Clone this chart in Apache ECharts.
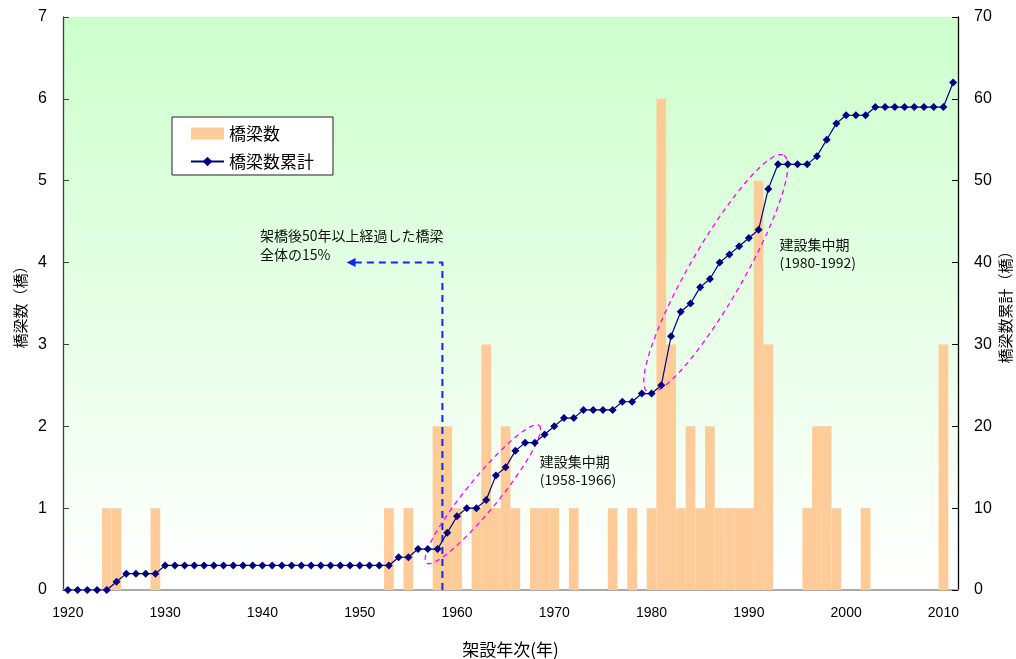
<!DOCTYPE html>
<html>
<head>
<meta charset="utf-8">
<script src="https://cdn.jsdelivr.net/npm/echarts@6/dist/echarts.min.js"></script>
<style>
  html, body { margin: 0; padding: 0; background: #ffffff; }
  #chart { width: 1016px; height: 659px; }
</style>
</head>
<body>
<div id="chart"></div>
<script>
// Construction years (category axis)
const years = [
  '1920','1921','1922','1923','1924','1925','1926','1927','1928','1929',
  '1930','1931','1932','1933','1934','1935','1936','1937','1938','1939',
  '1940','1941','1942','1943','1944','1945','1946','1947','1948','1949',
  '1950','1951','1952','1953','1954','1955','1956','1957','1958','1959',
  '1960','1961','1962','1963','1964','1965','1966','1967','1968','1969',
  '1970','1971','1972','1973','1974','1975','1976','1977','1978','1979',
  '1980','1981','1982','1983','1984','1985','1986','1987','1988','1989',
  '1990','1991','1992','1993','1994','1995','1996','1997','1998','1999',
  '2000','2001','2002','2003','2004','2005','2006','2007','2008','2009',
  '2010','2011'
];

// Bridges built per year (left axis)
const bridgeCounts = [
  0, 0, 0, 0, 1, 1, 0, 0, 0, 1,
  0, 0, 0, 0, 0, 0, 0, 0, 0, 0,
  0, 0, 0, 0, 0, 0, 0, 0, 0, 0,
  0, 0, 0, 1, 0, 1, 0, 0, 2, 2,
  1, 0, 1, 3, 1, 2, 1, 0, 1, 1,
  1, 0, 1, 0, 0, 0, 1, 0, 1, 0,
  1, 6, 3, 1, 2, 1, 2, 1, 1, 1,
  1, 5, 3, 0, 0, 0, 1, 2, 2, 1,
  0, 0, 1, 0, 0, 0, 0, 0, 0, 0,
  3, 0
];

// Cumulative bridge count (right axis)
const cumulativeCounts = [
  0, 0, 0, 0, 0, 1, 2, 2, 2, 2,
  3, 3, 3, 3, 3, 3, 3, 3, 3, 3,
  3, 3, 3, 3, 3, 3, 3, 3, 3, 3,
  3, 3, 3, 3, 4, 4, 5, 5, 5, 7,
  9, 10, 10, 11, 14, 15, 17, 18, 18, 19,
  20, 21, 21, 22, 22, 22, 22, 23, 23, 24,
  24, 25, 31, 34, 35, 37, 38, 40, 41, 42,
  43, 44, 49, 52, 52, 52, 52, 53, 55, 57,
  58, 58, 58, 59, 59, 59, 59, 59, 59, 59,
  59, 62
];

// Annotations, in (year, left-axis value) coordinates
const agedMarker = { year: 1958.5, level: 4, arrowTo: 1948.65 };
const agedNote = { year: 1939.75, lines: [
  { text: '架橋後50年以上経過した橋梁', level: 4.325 },
  { text: '全体の15%', level: 4.093 }
] };
const boomPeriods = [
  { from: [1956.86, 0.33], to: [1968.45, 2.01], halfWidth: 16,
    labelYear: 1968.5, title: '建設集中期', titleLevel: 1.567, range: '(1958-1966)', rangeLevel: 1.343 },
  { from: [1979.6, 2.42], to: [1993.6, 5.31], halfWidth: 27,
    labelYear: 1993.15, title: '建設集中期', titleLevel: 4.223, range: '(1980-1992)', rangeLevel: 3.998 }
];

const CJK = '"Noto Sans CJK JP", sans-serif';
const LATIN = '"Liberation Sans", "Noto Sans CJK JP", sans-serif';

const chart = echarts.init(document.getElementById('chart'), null, { renderer: 'canvas' });

function ellipsePoints(p1, p2, halfWidth) {
  const cx = (p1[0] + p2[0]) / 2, cy = (p1[1] + p2[1]) / 2;
  const dx = p2[0] - p1[0], dy = p2[1] - p1[1];
  const len = Math.sqrt(dx * dx + dy * dy);
  const ux = dx / len, uy = dy / len;
  const nx = -uy, ny = ux;
  const a = len / 2;
  const pts = [];
  for (let k = 0; k < 96; k++) {
    const t = (k / 96) * Math.PI * 2;
    const c = Math.cos(t) * a, s = Math.sin(t) * halfWidth;
    pts.push([cx + ux * c + nx * s, cy + uy * c + ny * s]);
  }
  return pts;
}

function renderAnnotations(params, api) {
  const P = (x, y) => api.coord([x, y]);
  const children = [];

  // 50-year threshold: vertical marker with arrow to the note
  const base = P(agedMarker.year, 0);
  const corner = P(agedMarker.year, agedMarker.level);
  const tip = P(agedMarker.arrowTo, agedMarker.level);
  children.push({
    type: 'polyline',
    shape: { points: [base, corner, [tip[0] + 7, tip[1]]] },
    style: { stroke: '#0a28ff', lineWidth: 2, lineDash: [7, 5], fill: 'none' }
  });
  children.push({
    type: 'polygon',
    shape: { points: [tip, [tip[0] + 9, tip[1] - 4.5], [tip[0] + 9, tip[1] + 4.5]] },
    style: { fill: '#0a28ff' }
  });
  agedNote.lines.forEach(function (ln) {
    const p = P(agedNote.year, ln.level);
    children.push({
      type: 'text', x: p[0], y: p[1],
      style: { text: ln.text, fill: '#111', fontSize: 14, fontFamily: CJK, align: 'left', verticalAlign: 'middle' }
    });
  });

  // Construction boom periods
  boomPeriods.forEach(function (b) {
    children.push({
      type: 'polygon',
      shape: { points: ellipsePoints(P(b.from[0], b.from[1]), P(b.to[0], b.to[1]), b.halfWidth) },
      style: { fill: 'none', stroke: '#ff00ff', lineWidth: 1.3, lineDash: [5, 4] }
    });
    const t = P(b.labelYear, b.titleLevel);
    children.push({
      type: 'text', x: t[0], y: t[1],
      style: { text: b.title, fill: '#111', fontSize: 14, fontFamily: CJK, align: 'left', verticalAlign: 'middle' }
    });
    const r = P(b.labelYear, b.rangeLevel);
    children.push({
      type: 'text', x: r[0], y: r[1],
      style: { text: b.range, fill: '#111', fontSize: 14, fontFamily: CJK, align: 'left', verticalAlign: 'middle' }
    });
  });

  return { type: 'group', children: children };
}

const option = {
  animation: false,
  textStyle: { fontFamily: LATIN, color: '#000' },
  grid: {
    left: 63, right: 58, top: 17, bottom: 69,
    containLabel: false, outerBoundsMode: 'none',
    show: true, borderWidth: 0,
    backgroundColor: new echarts.graphic.LinearGradient(0, 0, 0, 1, [
      { offset: 0, color: '#ccffcc' },
      { offset: 1, color: '#ffffff' }
    ])
  },
  legend: {
    left: 172, top: 117, orient: 'vertical',
    backgroundColor: '#ffffff', borderColor: '#222', borderWidth: 1,
    padding: [8, 19, 5, 18], itemGap: 11, itemWidth: 33, itemHeight: 12,
    textStyle: { fontSize: 17, color: '#000', fontFamily: CJK },
    data: [{ name: '橋梁数', icon: 'rect' }, { name: '橋梁数累計' }]
  },
  xAxis: [
    {
      type: 'category', data: years, boundaryGap: true, position: 'bottom',
      name: '架設年次(年)', nameLocation: 'middle', nameGap: 51, nameMoveOverlap: false,
      nameTextStyle: { fontSize: 17, fontFamily: CJK, color: '#000' },
      axisLine: { lineStyle: { color: '#000', width: 1 } },
      axisTick: { inside: true, length: 5, interval: 9, alignWithLabel: false, lineStyle: { color: '#000' } },
      axisLabel: { interval: 9, fontSize: 14, margin: 16, color: '#000', fontFamily: LATIN },
      splitLine: { show: false }
    },
    {
      type: 'value', min: 1919.5, max: 2011.5, position: 'top',
      axisLine: { show: true, lineStyle: { color: '#aaaaaa', width: 2 } },
      axisTick: { show: false }, axisLabel: { show: false }, splitLine: { show: false }
    }
  ],
  yAxis: [
    {
      type: 'value', min: 0, max: 7, interval: 1, position: 'left',
      name: '橋梁数（橋）', nameLocation: 'middle', nameRotate: 90, nameGap: 35, nameMoveOverlap: false,
      nameTextStyle: { fontSize: 15, fontFamily: CJK, color: '#000' },
      axisLine: { show: true, lineStyle: { color: '#404040', width: 1.3 } },
      axisTick: { show: true, inside: true, length: 6, lineStyle: { color: '#404040' } },
      axisLabel: { fontSize: 16, margin: 16, color: '#000', fontFamily: LATIN },
      splitLine: { show: false }
    },
    {
      type: 'value', min: 0, max: 70, interval: 10, position: 'right',
      name: '橋梁数累計（橋）', nameLocation: 'middle', nameRotate: 90, nameGap: 40, nameMoveOverlap: false,
      nameTextStyle: { fontSize: 15, fontFamily: CJK, color: '#000' },
      axisLine: { show: true, lineStyle: { color: '#000', width: 1.3 } },
      axisTick: { show: true, inside: true, length: 6, lineStyle: { color: '#000' } },
      axisLabel: { fontSize: 16, margin: 16, color: '#000', fontFamily: LATIN },
      splitLine: { show: false }
    }
  ],
  series: [
    {
      name: '橋梁数', type: 'bar', xAxisIndex: 0, yAxisIndex: 0,
      data: bridgeCounts, barCategoryGap: '0%',
      itemStyle: { color: '#ffcc99' }, z: 2
    },
    {
      name: 'annotations', type: 'custom', xAxisIndex: 1, yAxisIndex: 0,
      data: [[1960, 1]], renderItem: renderAnnotations, clip: false, silent: true, z: 3
    },
    {
      name: '橋梁数累計', type: 'line', xAxisIndex: 0, yAxisIndex: 1,
      data: cumulativeCounts, showAllSymbol: true,
      symbol: 'diamond', symbolSize: 8,
      lineStyle: { color: '#000080', width: 1.2 },
      itemStyle: { color: '#000080' }, z: 5
    }
  ]
};

chart.setOption(option);
</script>
</body>
</html>
